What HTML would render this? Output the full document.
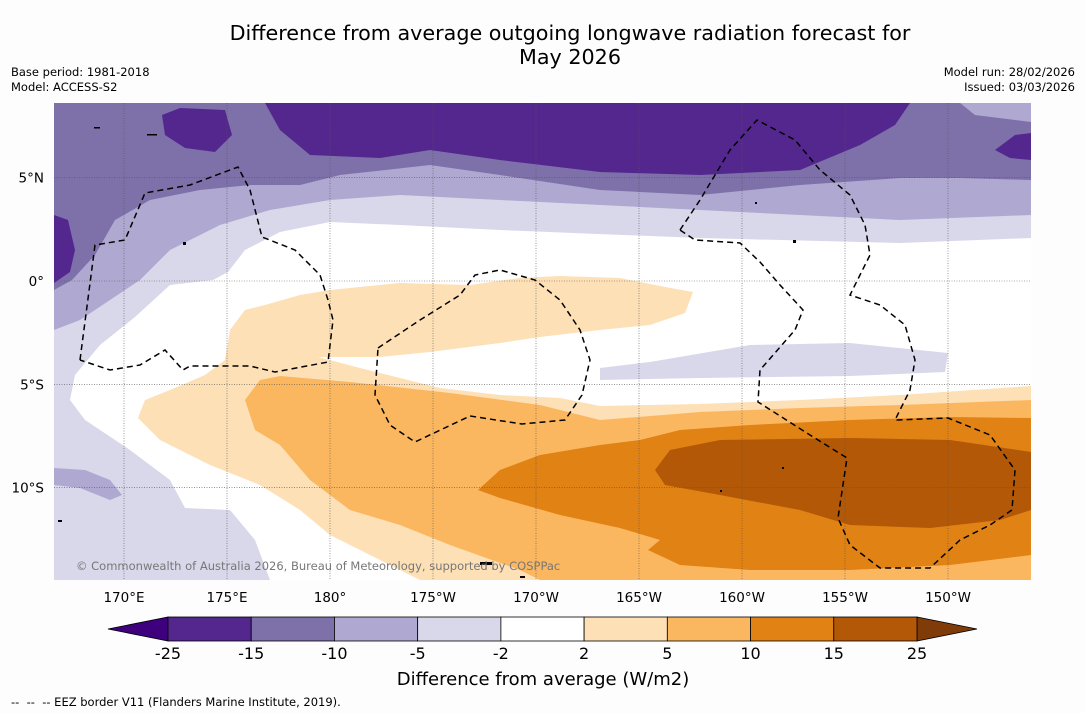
<!DOCTYPE html>
<html><head><meta charset="utf-8"><style>
body{margin:0;background:#fff;font-family:"DejaVu Sans",sans-serif;}
#root{position:relative;width:1085px;height:713px;background:#fdfdfd;}
.t{position:absolute;white-space:nowrap;color:#000;}
</style></head><body>
<div id="root">
<div class="t" style="left:0;width:1140px;top:21px;text-align:center;font-size:20.7px;line-height:24px;">Difference from average outgoing longwave radiation forecast for<br>May 2026</div>
<div class="t" style="left:11px;top:65px;font-size:11.5px;line-height:15px;">Base period: 1981-2018<br>Model: ACCESS-S2</div>
<div class="t" style="right:10px;top:65px;font-size:11.5px;line-height:15px;text-align:right;">Model run: 28/02/2026<br>Issued: 03/03/2026</div>
<svg id="svg" width="1085" height="713" style="position:absolute;left:0;top:0">
<defs><clipPath id="mc"><rect x="54" y="103" width="977" height="477"/></clipPath></defs>
<g clip-path="url(#mc)">
<rect x="54" y="103" width="977" height="477" fill="#fff"/>
<path fill="#d8d8ea" d="M54,103 L1031,103 L1031,238 L900,243 L700,238 L500,230 L400,225 L330,222 L280,232 L245,250 L228,272 L213,280 L170,285 L135,317 L100,345 L75,375 L70,400 L85,420 L130,450 L170,480 L185,508 L230,510 L255,540 L270,580 L54,580 Z"/>
<path fill="#afa8d1" d="M54,103 L1031,103 L1031,215 L900,220 L700,210 L500,200 L400,195 L330,200 L270,210 L220,225 L170,250 L140,280 L110,300 L80,320 L54,330 Z"/>
<path fill="#afa8d1" d="M54,468 L85,470 L110,480 L122,495 L110,500 L80,488 L54,485 Z"/>
<path fill="#7e70a9" d="M54,103 L960,103 L975,115 L1031,122 L1031,180 L960,178 L900,178 L800,185 L700,195 L600,190 L500,175 L430,165 L340,175 L300,185 L250,185 L200,190 L150,200 L115,220 L95,255 L72,280 L54,290 Z"/>
<path fill="#54278f" d="M265,103 L910,103 L895,125 L860,145 L800,170 L700,175 L600,172 L500,160 L430,150 L380,158 L310,155 L280,130 Z"/>
<path fill="#54278f" d="M162,115 L180,108 L225,110 L232,135 L215,152 L185,148 L165,135 Z"/>
<path fill="#54278f" d="M995,150 L1015,135 L1031,133 L1031,160 L1010,158 Z"/>
<path fill="#54278f" d="M54,215 L68,220 L75,250 L70,272 L54,283 Z"/>
<path fill="#d8d8ea" d="M600,368 L650,362 L750,345 L850,343 L948,353 L945,372 L850,376 L700,378 L600,380 Z"/>
<path fill="#fde0b6" d="M230,330 L245,310 L265,305 L300,295 L330,290 L400,283 L470,285 L520,278 L560,276 L620,278 L665,287 L693,292 L685,313 L650,325 L600,330 L540,337 L500,343 L430,352 L380,357 L318,357 L360,368 L400,378 L440,388 L500,395 L560,398 L600,406 L700,404 L800,400 L900,395 L1031,386 L1031,580 L420,580 L380,560 L330,535 L300,510 L260,485 L210,465 L160,440 L138,418 L145,400 L170,390 L205,375 L225,360 Z"/>
<path fill="#fbb760" d="M1031,400 L900,405 L800,408 L700,412 L600,420 L540,405 L450,393 L350,382 L280,376 L260,380 L245,400 L255,430 L280,445 L310,480 L350,510 L400,525 L450,545 L520,570 L540,580 L1031,580 Z"/>
<path fill="#e08214" d="M1031,418 L950,417 L850,420 L750,425 L680,430 L640,440 L600,445 L540,455 L500,470 L478,490 L500,498 L560,515 L620,528 L660,540 L648,550 L680,565 L750,570 L850,570 L950,565 L1031,555 Z"/>
<path fill="#b35806" d="M1031,452 L950,440 L850,438 L720,440 L670,450 L655,470 L665,485 L720,495 L800,510 L850,525 L930,528 L1000,520 L1031,510 Z"/>
<g id="grid" stroke="#555" stroke-width="0.6" stroke-dasharray="1,1.5" fill="none"></g>
<g stroke="#000" stroke-width="1.5" stroke-dasharray="6,4" fill="none">
<path d="M80,360 L95,245 L125,240 L145,193 L190,185 L238,167 L250,190 L262,237 L295,250 L320,275 L328,300 L333,320 L328,362 L275,372 L250,366 L190,366 L183,370 L165,350 L140,365 L110,370 L80,360"/>
<path d="M378,348 L420,320 L460,295 L475,275 L500,270 L535,280 L560,300 L580,330 L590,360 L582,395 L565,420 L522,424 L470,416 L415,442 L390,425 L375,395 L378,348"/>
<path d="M680,230 L700,200 L730,150 L757,120 L795,140 L820,170 L850,195 L865,225 L870,255 L850,295 L880,305 L905,325 L915,360 L910,390 L895,420 L948,418 L990,435 L1015,470 L1012,510 L990,525 L960,540 L930,568 L880,568 L850,545 L838,518 L847,458 L810,435 L758,402 L760,370 L795,330 L803,310 L780,285 L760,262 L740,243 L695,240 Z"/>
</g>
<g fill="#000">
<rect x="147" y="134" width="10" height="1.5"/><rect x="94" y="127" width="6" height="1.5"/><rect x="183" y="242" width="3" height="3"/><rect x="58" y="520" width="4" height="2"/><rect x="480" y="562" width="12" height="3"/><rect x="782" y="467" width="2" height="2"/><rect x="720" y="490" width="2" height="2"/><rect x="793" y="240" width="3" height="3"/><rect x="755" y="202" width="2" height="2"/><rect x="520" y="576" width="5" height="2"/>
</g>
</g>
<text x="76" y="570" font-size="11.5" fill="#777" font-family="DejaVu Sans, sans-serif">© Commonwealth of Australia 2026, Bureau of Meteorology, supported by COSPPac</text>
<g id="axes" font-size="13.5" font-family="DejaVu Sans, sans-serif"></g>
<g id="cbar"></g>
<text x="543" y="685" font-size="18" text-anchor="middle" font-family="DejaVu Sans, sans-serif">Difference from average (W/m2)</text>
</svg>
<div class="t" style="left:11px;top:695px;font-size:11.5px;">-- &nbsp;-- &nbsp;-- EEZ border V11 (Flanders Marine Institute, 2019).</div>
</div>
<script>
const lonTicks=[170,175,180,-175,-170,-165,-160,-155,-150];
const lonLabels=["170°E","175°E","180°","175°W","170°W","165°W","160°W","155°W","150°W"];
const latTicks=[5,0,-5,-10];
const latLabels=["5°N","0°","5°S","10°S"];
const levels=["-25","-15","-10","-5","-2","2","5","10","15","25"];
const levelColors=["#54278f","#7e70a9","#afa8d1","#d8d8ea","#ffffff","#fde0b6","#fbb760","#e08214","#b35806"];
const NS="http://www.w3.org/2000/svg";
function xLon(l){const e=l<0?l+360:l;return 124+(e-170)*20.6;}
function yLat(l){return 281-l*20.66;}
function mk(t,a,p){const e=document.createElementNS(NS,t);for(const k in a)e.setAttribute(k,a[k]);p.appendChild(e);return e;}
const grid=document.getElementById('grid'),axes=document.getElementById('axes');
lonTicks.forEach((l,i)=>{const x=xLon(l);
const g=mk('line',{x1:x,x2:x,y1:103,y2:580},grid);


const t=mk('text',{x:x,y:602,'text-anchor':'middle'},axes);t.textContent=lonLabels[i];

});
latTicks.forEach((l,i)=>{const y=yLat(l);
const g=mk('line',{x1:54,x2:1031,y1:y,y2:y},grid);


const t=mk('text',{x:44,y:y+5,'text-anchor':'end'},axes);t.textContent=latLabels[i];

});
const cb=document.getElementById('cbar');
const x0=168,x1=917,y0=617,h=24,w=(x1-x0)/levelColors.length;
const lt=mk('polygon',{points:`${x0},${y0} ${x0},${y0+h} 108,${y0+h/2}`,fill:'#3f007d',stroke:'#000','stroke-width':0.8},cb);


const rt=mk('polygon',{points:`${x1},${y0} ${x1},${y0+h} 977,${y0+h/2}`,fill:'#7f3b08',stroke:'#000','stroke-width':0.8},cb);


levelColors.forEach((c,i)=>{const r=mk('rect',{x:x0+i*w,y:y0,width:w,height:h,fill:c,stroke:'#000','stroke-width':0.8},cb);

});
levels.forEach((v,i)=>{const t=mk('text',{x:x0+i*w,y:659,'text-anchor':'middle','font-size':16,'font-family':'DejaVu Sans, sans-serif'},cb);t.textContent=v;

});
</script>
</body></html>
